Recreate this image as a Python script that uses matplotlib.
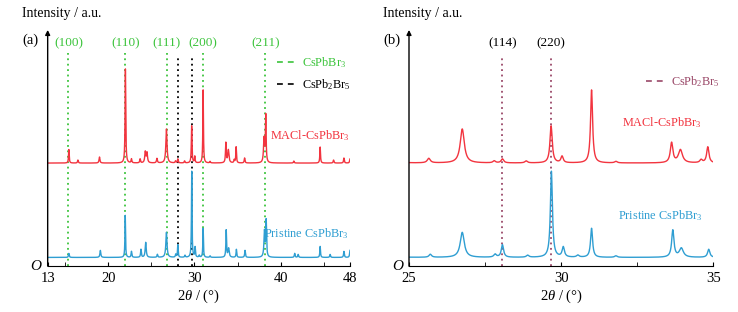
import numpy as np
import matplotlib
matplotlib.use("Agg")
import matplotlib.pyplot as plt
from matplotlib.lines import Line2D

plt.rcParams["font.family"] = ["Liberation Serif", "DejaVu Serif"]
plt.rcParams["mathtext.fontset"] = "custom"
plt.rcParams["mathtext.rm"] = "Liberation Serif"
plt.rcParams["mathtext.it"] = "Liberation Serif:italic"
plt.rcParams["mathtext.bf"] = "Liberation Serif:bold"

# MACl-CsPbBr3 peaks: 2theta (deg), height (a.u.), FWHM (deg)
macl_pos = [15.45, 16.5, 19.0, 22.0, 22.7, 23.7, 24.3, 24.5, 25.65, 26.75,
            27.8, 28.07, 28.85, 29.67, 30.03, 31.0, 31.8, 33.63, 33.92,
            34.6, 34.82, 35.8, 38.05, 38.25, 41.5, 44.55, 46.1, 47.3, 48.0]
macl_h = [13.5, 3, 6, 94, 4, 4, 11, 10, 4.5, 34,
          2, 4, 2, 37, 6.5, 73, 1.5, 20, 13,
          3, 16, 5, 24, 47, 2, 16, 3, 5, 4]
macl_w = [0.09, 0.1, 0.12, 0.09, 0.1, 0.1, 0.14, 0.14, 0.12, 0.16,
          0.1, 0.1, 0.1, 0.09, 0.09, 0.08, 0.1, 0.1, 0.16,
          0.1, 0.09, 0.1, 0.14, 0.1, 0.1, 0.09, 0.1, 0.1, 0.1]

# Pristine CsPbBr3 peaks
pris_pos = [15.45, 19.1, 21.98, 22.7, 23.8, 24.35, 25.7, 26.75, 27.83, 28.07,
            28.9, 29.68, 30.07, 30.55, 31.0, 31.8, 33.67, 33.95, 34.85, 35.85,
            38.1, 38.3, 41.6, 42.0, 44.55, 45.7, 47.3, 48.0]
pris_h = [4, 7, 42, 6, 8, 15, 3, 25, 3, 12.5,
          2, 86, 10, 2, 29, 1.5, 27, 9, 8, 7,
          26, 36, 4, 3, 11, 3, 6, 7]
pris_w = [0.1, 0.12, 0.08, 0.1, 0.1, 0.14, 0.1, 0.16, 0.1, 0.09,
          0.1, 0.08, 0.09, 0.1, 0.08, 0.1, 0.09, 0.16, 0.09, 0.1,
          0.14, 0.1, 0.1, 0.1, 0.09, 0.1, 0.1, 0.1]

macl_offset = 103
pris_offset = 8.7

# reference lines
cspbbr3_pos = [15.4, 22.0, 26.8, 31.0, 38.2]
cspbbr3_hkl = ["(100)", "(110)", "(111)", "(200)", "(211)"]
cspb2br5_pos = [28.1, 29.7]
zoom_pos = [28.07, 29.67]
zoom_hkl = ["(114)", "(220)"]

RED = "#f2343f"
BLUE = "#2f9ed2"
GREEN = "#3cc43c"
MAROON = "#9a4868"


def pattern(x, pos, h, w):
    y = np.zeros_like(x)
    for p, a, fw in zip(pos, h, w):
        y += a / (1 + ((x - p) / (fw / 2)) ** 2)
    return y


def style_axes(ax, xlim, majors, minors):
    ax.set_xlim(*xlim)
    ax.set_ylim(0, 236)
    for s in ["top", "right", "left"]:
        ax.spines[s].set_visible(False)
    ax.set_yticks([])
    ax.set_xticks(majors)
    ax.set_xticks(minors, minor=True)
    ax.tick_params(axis="x", direction="in", length=3, labelsize=10.5, pad=4)
    ax.tick_params(axis="x", which="minor", direction="in", length=3)
    ax.annotate("", xy=(0, 1.0), xytext=(0, 0), xycoords="axes fraction",
                arrowprops=dict(arrowstyle="-|>", color="black", lw=1,
                                mutation_scale=7, shrinkA=0, shrinkB=0))
    ax.text(-0.02, 0.0, "O", transform=ax.transAxes, style="italic",
            fontsize=11, ha="right", va="center")
    ax.text(-0.085, 1.07, "Intensity / a.u.", transform=ax.transAxes,
            fontsize=10, ha="left", va="center")
    ax.set_xlabel(r"2$\it{\theta}$ / (°)", fontsize=10.5, labelpad=2)


def plot():
    fig = plt.figure(figsize=(7.38, 3.12), dpi=100)
    ax1 = fig.add_axes([0.0646, 0.147, 0.4096, 0.757])
    ax2 = fig.add_axes([0.5542, 0.147, 0.4123, 0.757])

    x = np.arange(12.5, 48.5, 0.005)
    y_macl = pattern(x, macl_pos, macl_h, macl_w) + macl_offset
    y_pris = pattern(x, pris_pos, pris_h, pris_w) + pris_offset

    # (a) full range
    ax1.vlines(cspbbr3_pos, 0, 213, colors=GREEN, linestyles=(0, (1, 2)), lw=1.3)
    ax1.vlines(cspb2br5_pos, 0, 209, colors="black", linestyles=(0, (1, 2)), lw=1.3)
    ax1.plot(x, y_macl, color=RED, lw=1.0)
    ax1.plot(x, y_pris, color=BLUE, lw=1.0)
    for p, t in zip(cspbbr3_pos, cspbbr3_hkl):
        ax1.text(p, 223, t, color=GREEN, fontsize=9.5, ha="center", va="center")
    style_axes(ax1, (13, 48), [13, 20, 30, 40, 48], [15, 25, 35, 45])
    ax1.text(-0.085, 0.955, "(a)", transform=ax1.transAxes, fontsize=10.5,
             ha="left", va="center")
    ax1.text(47.9, 130, r"MACl-CsPbBr$_3$", color=RED, fontsize=8.8,
             ha="right", va="center")
    ax1.text(47.9, 33, r"Pristine CsPbBr$_3$", color=BLUE, fontsize=8.8,
             ha="right", va="center")
    ax1.legend(handles=[Line2D([], [], color=GREEN, ls=(0, (3.5, 3)), lw=1.2),
                        Line2D([], [], color="black", ls=(0, (3.5, 3)), lw=1.2)],
               labels=[r"CsPbBr$_3$", r"CsPb$_2$Br$_5$"],
               labelcolor=[GREEN, "black"], frameon=False, fontsize=8.8,
               loc="upper left", bbox_to_anchor=(0.74, 0.92),
               handlelength=1.7, handletextpad=0.3, labelspacing=0.6,
               borderpad=0)

    # (b) zoom 25-35
    ax2.vlines(zoom_pos, 0, 209, colors=MAROON, linestyles=(0, (1, 2)), lw=1.3)
    ax2.plot(x, y_macl, color=RED, lw=1.0)
    ax2.plot(x, y_pris, color=BLUE, lw=1.0)
    for p, t in zip(zoom_pos, zoom_hkl):
        ax2.text(p, 223, t, color="black", fontsize=9.5, ha="center", va="center")
    style_axes(ax2, (25, 35), [25, 30, 35], [27.5, 32.5])
    ax2.text(-0.085, 0.955, "(b)", transform=ax2.transAxes, fontsize=10.5,
             ha="left", va="center")
    ax2.text(34.6, 143, r"MACl-CsPbBr$_3$", color=RED, fontsize=8.8,
             ha="right", va="center")
    ax2.text(34.65, 50, r"Pristine CsPbBr$_3$", color=BLUE, fontsize=8.8,
             ha="right", va="center")
    ax2.legend(handles=[Line2D([], [], color=MAROON, ls=(0, (3.5, 3)), lw=1.2)],
               labels=[r"CsPb$_2$Br$_5$"], labelcolor=[MAROON],
               frameon=False, fontsize=8.8,
               loc="upper left", bbox_to_anchor=(0.76, 0.84),
               handlelength=1.7, handletextpad=0.3, borderpad=0)

    fig.savefig("out.png", dpi=100)


def main():
    plot()


if __name__ == "__main__":
    main()
